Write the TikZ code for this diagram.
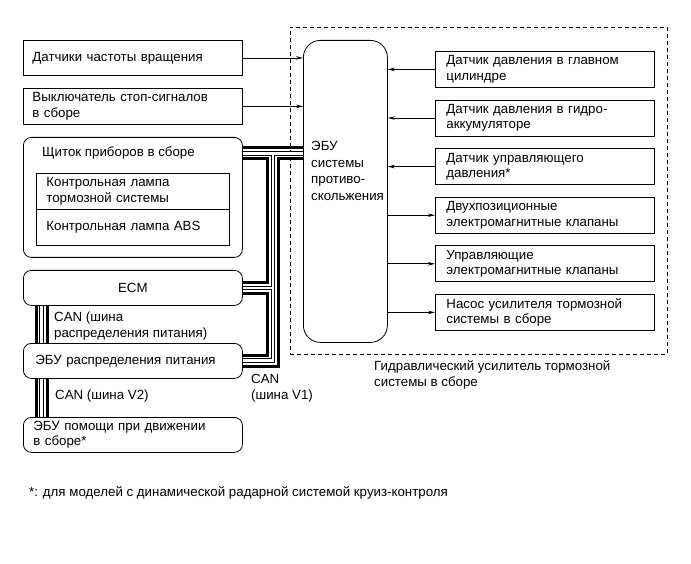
\documentclass[tikz,border=0pt]{standalone}
\usepackage{fontspec}
\setmainfont{Liberation Sans}
\usetikzlibrary{arrows.meta}
\begin{document}
\begin{tikzpicture}[x=1pt,y=-1pt,
  every node/.style={font=\fontsize{13.3}{15.5}\selectfont},
  bx/.style={draw, line width=0.8pt, inner ysep=0pt, align=left, anchor=north west},
  lbox/.style={bx, minimum width=219pt, minimum height=35pt, text width=201pt, inner xsep=9pt},
  rbox/.style={bx, minimum width=219pt, minimum height=36pt, text width=197pt, inner xsep=11pt},
  lamp/.style={bx, minimum width=193pt, minimum height=36pt, text width=173pt, inner xsep=10pt},
  rnd/.style={rounded corners=8pt},
  lbl/.style={anchor=west, align=left, inner sep=0pt},
  arr/.style={line width=0.7pt, -{Stealth[length=7pt,width=3.5pt]}},
  tk/.style={line width=3pt, line join=miter},
  dbk/.style={line width=4.4pt, black},
  dwh/.style={line width=2.4pt, white},
  hydbox/.style={draw, line width=0.7pt, dash pattern=on 4pt off 3pt, anchor=north west, inner sep=0pt}
]
\useasboundingbox (0,0) rectangle (691,564);

% dashed assembly
\node[hydbox, minimum width=377pt, minimum height=327pt] (hyd) at (290,27) {};
\node[lbl] (hydl) at (374,375) {Гидравлический усилитель тормозной\\системы в сборе};

% left boxes
\node[lbox] (b1) at (23,40) {Датчики частоты вращения};
\node[lbox, minimum height=36pt] (b2) at (23,88) {Выключатель стоп-сигналов\\в сборе};
\node[bx, rnd, minimum width=219pt, minimum height=120pt, inner sep=0pt] (sh) at (23,137) {};
\node[lbl] (sht) at (42,153) {Щиток приборов в сборе};
\node[lamp] (l1) at (36,173) {Контрольная лампа\\тормозной системы};
\node[lamp] (l2) at (36,209) {Контрольная лампа ABS};
\node[lbox, rnd, align=center] (ecm) at (23,270) {ECM};
\node[lbox, rnd, text width=195pt, inner xsep=12pt] (epr) at (23,343) {ЭБУ распределения питания};
\node[lbox, rnd, text width=199pt, inner xsep=10pt] (eda) at (23,417) {ЭБУ помощи при движении\\в сборе*};

% ECU
\node[bx, rounded corners=17pt, minimum width=84pt, minimum height=302pt, inner sep=0pt] (ecu) at (303,40) {};
\node[lbl, font=\fontsize{13.3}{16.5}\selectfont] (ecut) at (311,171) {ЭБУ\\системы\\противо-\\скольжения};

% right boxes
\node[rbox] (r1) at (435,51) {Датчик давления в главном\\цилиндре};
\node[rbox] (r2) at (435,99.6) {Датчик давления в гидро-\\аккумуляторе};
\node[rbox] (r3) at (435,148.2) {Датчик управляющего\\давления*};
\node[rbox] (r4) at (435,196.8) {Двухпозиционные\\электромагнитные клапаны};
\node[rbox] (r5) at (435,245.4) {Управляющие\\электромагнитные клапаны};
\node[rbox] (r6) at (435,294) {Насос усилителя тормозной\\системы в сборе};

% arrows
\draw[arr] (b1.east) -- (b1.east -| ecu.west);
\draw[arr] (b2.east) -- (b2.east -| ecu.west);
\draw[arr] (r1.west) -- (r1.west -| ecu.east);
\draw[arr] (r2.west) -- (r2.west -| ecu.east);
\draw[arr] (r3.west) -- (r3.west -| ecu.east);
\draw[arr] (r4.west -| ecu.east) -- (r4.west);
\draw[arr] (r5.west -| ecu.east) -- (r5.west);
\draw[arr] (r6.west -| ecu.east) -- (r6.west);

% CAN bus reference coordinates
\coordinate (yT1) at (0,148); \coordinate (yTc) at (0,153.5); \coordinate (yT2) at (0,159);
\coordinate (yE1) at (0,282.5); \coordinate (yEc) at (0,288); \coordinate (yE2) at (0,293.5);
\coordinate (yP1) at (0,355); \coordinate (yPc) at (0,360.5); \coordinate (yP2) at (0,366);
\coordinate (xS1) at (267.5,0); \coordinate (xSc) at (273,0); \coordinate (xS2) at (278.5,0);
\coordinate (xL1) at (36,0); \coordinate (xLc) at (41.5,0); \coordinate (xL2) at (47,0);

% double (thin) wires: outlines then interiors
\foreach \st in {dbk,dwh}{
  \draw[\st] (sh.east |- yTc) -- (ecu.west |- yTc);
  \draw[\st, line join=miter] (xSc |- yTc) -- (xSc |- yPc) -- (epr.east |- yPc);
  \draw[\st] (ecm.east |- yEc) -- (xSc |- yEc);
  \draw[\st] (ecm.south -| xLc) -- (epr.north -| xLc);
  \draw[\st] (epr.south -| xLc) -- (eda.north -| xLc);
}
% thick wires
\draw[tk] (sh.east |- yT1) -- (ecu.west |- yT1);
\draw[tk] (sh.east |- yT2) -- (xS1 |- yT2) -- (xS1 |- yE1) -- (ecm.east |- yE1);
\draw[tk] (ecu.west |- yT2) -- (xS2 |- yT2) -- (xS2 |- yP2) -- (epr.east |- yP2);
\draw[tk] (ecm.east |- yE2) -- (xS1 |- yE2) -- (xS1 |- yP1) -- (epr.east |- yP1);
\draw[tk] (ecm.south -| xL1) -- (epr.north -| xL1);
\draw[tk] (ecm.south -| xL2) -- (epr.north -| xL2);
\draw[tk] (epr.south -| xL1) -- (eda.north -| xL1);
\draw[tk] (epr.south -| xL2) -- (eda.north -| xL2);

% labels
\node[lbl] (can1) at (54,326) {CAN (шина\\распределения питания)};
\node[lbl] (can2) at (55,396) {CAN (шина V2)};
\node[lbl] (can3) at (251,388) {CAN\\(шина V1)};
\node[lbl] (fn) at (29,493) {*: для моделей с динамической радарной системой круиз-контроля};
\end{tikzpicture}
\end{document}
